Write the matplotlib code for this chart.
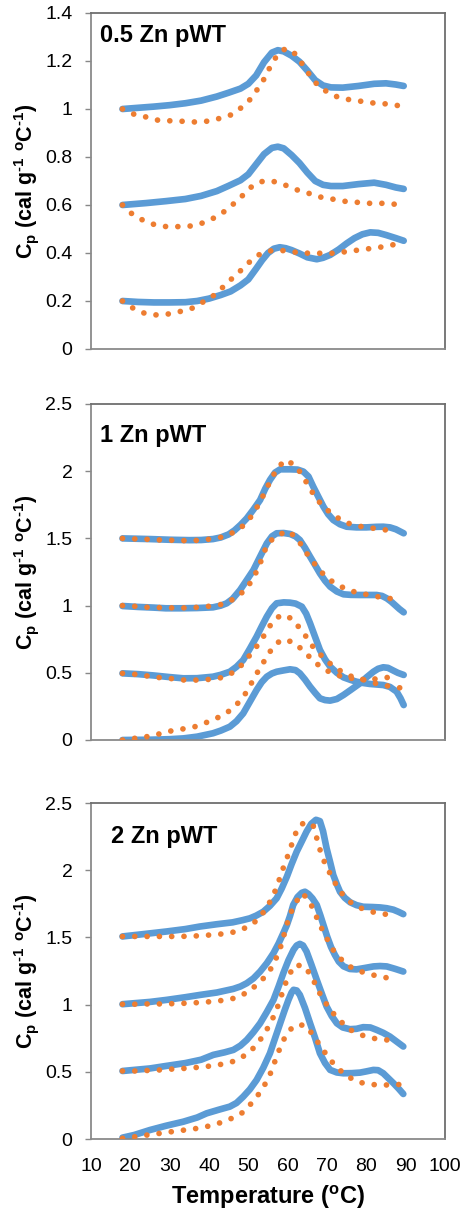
import matplotlib
matplotlib.use("Agg")
import matplotlib.pyplot as plt
from matplotlib.ticker import FormatStrFormatter, MultipleLocator

plt.rcParams["font.family"] = ["Liberation Sans", "DejaVu Sans"]
plt.rcParams["mathtext.default"] = "regular"

BLUE = "#5B9BD5"
ORANGE = "#ED7D31"

# ---- 0.5 Zn pWT ----
t05_blue_a = [18, 22, 26, 30, 34, 38, 42, 45, 48, 50, 52, 54, 56, 57.5, 59, 61, 63, 65, 67, 69, 71, 74, 78, 82, 85, 87.5, 89.5]
cp05_blue_a = [1.000, 1.005, 1.010, 1.016, 1.024, 1.035, 1.052, 1.068, 1.085, 1.105, 1.140, 1.195, 1.235, 1.245, 1.240, 1.222,
               1.197, 1.160, 1.120, 1.098, 1.090, 1.089, 1.096, 1.105, 1.107, 1.102, 1.096]
t05_orange_a = [18, 20.8, 23.7, 26.7, 29.8, 33, 36.3, 39.4, 42.5, 45.5, 48, 50.3, 52.3, 54, 55.5, 57.2, 59.5, 62, 63.7, 65.7,
                67.6, 70.3, 73.1, 76, 79.2, 82.2, 85.3, 88.6]
cp05_orange_a = [1.0, 0.979, 0.968, 0.954, 0.951, 0.949, 0.946, 0.949, 0.96, 0.975, 1.003, 1.037, 1.082, 1.125, 1.174, 1.221,
                 1.253, 1.229, 1.188, 1.139, 1.1, 1.068, 1.047, 1.038, 1.031, 1.024, 1.021, 1.013]
t05_blue_b = [18, 24, 29, 34, 38, 42, 45, 48, 50, 52, 54, 56, 57.5, 59, 61, 63, 65, 67, 69, 71, 74, 78, 82, 85, 87.5, 89.5]
cp05_blue_b = [0.600, 0.608, 0.616, 0.625, 0.638, 0.658, 0.680, 0.703, 0.728, 0.770, 0.812, 0.838, 0.843, 0.836, 0.808, 0.775,
               0.735, 0.700, 0.684, 0.679, 0.679, 0.687, 0.693, 0.684, 0.673, 0.667]
t05_orange_b = [18, 20.3, 23.1, 26, 29.1, 32.3, 35.4, 38.6, 41.4, 44.1, 46.4, 48.7, 51, 53.8, 56.9, 59.7, 62.7, 65.7, 68.6,
                71.6, 74.7, 77.8, 80.9, 84.2, 87.5]
cp05_orange_b = [0.6, 0.565, 0.5375, 0.519, 0.51, 0.51, 0.5125, 0.526, 0.547, 0.575, 0.607, 0.642, 0.679, 0.7, 0.697, 0.681,
                 0.661, 0.647, 0.632, 0.624, 0.615, 0.611, 0.607, 0.607, 0.603]
t05_blue_c = [18, 22, 26, 30, 34, 37, 40, 43, 45.5, 48, 50, 52, 53.5, 55, 56.5, 58, 59.5, 61, 63, 65, 67.4, 69, 70.8, 73, 75,
              77, 79, 81, 83, 85, 87.5, 89.5]
cp05_blue_c = [0.200, 0.196, 0.194, 0.194, 0.195, 0.200, 0.210, 0.225, 0.240, 0.265, 0.290, 0.335, 0.370, 0.400, 0.418, 0.424,
               0.420, 0.412, 0.398, 0.382, 0.374, 0.380, 0.392, 0.415, 0.440, 0.462, 0.478, 0.486, 0.484, 0.475, 0.462, 0.451]
t05_orange_c = [18, 20.8, 23.6, 26.4, 29.7, 32.6, 35.6, 38.3, 41.1, 43.5, 45.8, 48, 50.4, 53, 55.9, 59.1, 62.1, 65.3, 68.6,
                72, 75, 78.1, 81.2, 84.3, 87.3, 89.5]
cp05_orange_c = [0.2, 0.169, 0.149, 0.142, 0.146, 0.156, 0.169, 0.194, 0.222, 0.257, 0.293, 0.326, 0.364, 0.396, 0.41, 0.41,
                 0.403, 0.399, 0.399, 0.399, 0.406, 0.4125, 0.419, 0.426, 0.436, 0.443]

# ---- 1 Zn pWT ----
t1_blue_a = [18, 25, 30, 35, 38, 41, 43, 45, 46.5, 48, 49.6, 51.3, 53, 54.3, 55.5, 56.8, 58.1, 60.6, 62.5, 64, 65.3, 66.5,
             67.8, 69.1, 70.3, 71.6, 73.3, 75, 77.5, 80, 82.5, 84.3, 86, 87.5, 89.5]
cp1_blue_a = [1.5, 1.495, 1.490, 1.487, 1.488, 1.495, 1.507, 1.530, 1.560, 1.600, 1.649, 1.715, 1.786, 1.870, 1.935, 1.990,
              2.014, 2.014, 2.012, 1.997, 1.960, 1.885, 1.810, 1.736, 1.680, 1.637, 1.605, 1.587, 1.582, 1.582, 1.586, 1.587,
              1.582, 1.568, 1.538]
t1_orange_a = [18, 21.2, 24.4, 27.7, 30.9, 34.2, 37.5, 40.7, 43.8, 46.6, 49.2, 51, 52.7, 54.2, 55.7, 57.2, 59.3, 61.9, 63.7,
               65.4, 67.1, 69.1, 71.4, 74.2, 77.2, 80.1, 83.2, 86.3]
cp1_orange_a = [1.5, 1.496, 1.493, 1.488, 1.486, 1.483, 1.486, 1.496, 1.513, 1.55, 1.605, 1.674, 1.756, 1.843, 1.935, 2.014,
                2.083, 2.046, 1.97, 1.885, 1.803, 1.736, 1.679, 1.625, 1.595, 1.582, 1.57, 1.5575]
t1_blue_b = [18, 22, 26, 29, 33, 37, 41, 43, 44.5, 46, 47.9, 49.6, 51.3, 53, 54.7, 56, 57.2, 59, 60.6, 62, 63.1, 64.4, 65.7,
             67, 68.2, 69.5, 70.8, 72.5, 74.2, 76, 78.4, 80.5, 82.6, 84, 85.2, 86.3, 87.3, 88.4, 89.5]
cp1_blue_b = [0.997, 0.99, 0.985, 0.980, 0.980, 0.982, 0.987, 1.000, 1.017, 1.050, 1.116, 1.190, 1.265, 1.365, 1.463, 1.515,
              1.538, 1.540, 1.533, 1.515, 1.488, 1.430, 1.364, 1.300, 1.240, 1.185, 1.141, 1.105, 1.084, 1.080, 1.079, 1.079,
              1.079, 1.072, 1.054, 1.030, 1.004, 0.975, 0.950]
t1_orange_b = [18, 21, 24, 27.5, 31, 34, 37, 40.7, 43.8, 46.6, 49.2, 51, 52.7, 54.7, 56.3, 57.9, 60.2, 62.6, 64.2, 66.1, 68.2,
               70.5, 73.1, 75.8, 79, 82, 85.2, 88.3]
cp1_orange_b = [1.0, 0.995, 0.988, 0.985, 0.983, 0.983, 0.987, 0.997, 1.012, 1.054, 1.116, 1.19, 1.29, 1.45, 1.50, 1.53, 1.555,
                1.493, 1.414, 1.339, 1.26, 1.195, 1.148, 1.111, 1.089, 1.071, 1.054, 1.049]
t1_blue_c = [18, 22, 26, 30, 33.5, 37, 41, 43, 45.3, 47, 48.7, 50.4, 52.1, 53.4, 54.7, 56, 57.2, 59, 60.6, 62, 63.6, 64.7,
             65.7, 67, 68.2, 69.5, 70.8, 72.5, 74.2, 76, 77.5, 79, 80.9, 82.6, 84.3, 86, 87.7, 88.7, 89.5]
cp1_blue_c = [0.496, 0.490, 0.480, 0.468, 0.459, 0.460, 0.471, 0.485, 0.508, 0.545, 0.595, 0.680, 0.769, 0.845, 0.918, 0.980,
              1.017, 1.024, 1.022, 1.015, 0.992, 0.940, 0.868, 0.765, 0.670, 0.600, 0.546, 0.500, 0.466, 0.447, 0.434, 0.425,
              0.417, 0.413, 0.409, 0.395, 0.360, 0.310, 0.260]
t1_orange_c = [18, 21.2, 24.4, 27.5, 30.7, 33.7, 36.9, 40.1, 43.2, 46, 48.3, 50.4, 52.4, 54.2, 55.9, 58.2, 61, 63.1, 65, 66.7,
               69.1, 71.4, 74.2, 77.2, 80.1, 83.5, 86.8]
cp1_orange_c = [0.496, 0.489, 0.476, 0.464, 0.456, 0.446, 0.446, 0.451, 0.464, 0.501, 0.558, 0.632, 0.707, 0.786, 0.868, 0.93,
                0.905, 0.831, 0.757, 0.682, 0.613, 0.553, 0.5, 0.46, 0.446, 0.459, 0.47]
t1_blue_d = [18, 25, 30, 33.5, 37, 41, 43, 45.3, 47, 48.7, 50.4, 52.1, 53.4, 54.7, 56, 57.2, 59, 60.6, 62, 63.1, 64.4, 65.7,
             67, 68.2, 69.5, 70.8, 72.5, 74.2, 76, 78.4, 80, 81.8, 83, 84.3, 85.5, 86.9, 88, 89.5]
cp1_blue_d = [0, 0.002, 0.006, 0.012, 0.025, 0.050, 0.070, 0.099, 0.140, 0.198, 0.285, 0.372, 0.430, 0.471, 0.495, 0.508,
              0.518, 0.526, 0.520, 0.496, 0.450, 0.397, 0.350, 0.310, 0.297, 0.293, 0.305, 0.335, 0.372, 0.422, 0.465, 0.508,
              0.530, 0.541, 0.537, 0.516, 0.500, 0.484]
t1_orange_d = [18, 21, 24.2, 27.3, 30.3, 33.3, 36.4, 39.4, 42.2, 44.9, 47.3, 49.3, 51, 52.5, 54.2, 55.9, 58.2, 61.2, 63.6,
               65.9, 68.3, 71, 74, 77, 79.8, 82.8, 85.8, 88.8]
cp1_orange_d = [0, 0.012, 0.025, 0.045, 0.067, 0.082, 0.099, 0.131, 0.166, 0.211, 0.273, 0.347, 0.434, 0.513, 0.595, 0.675,
                0.744, 0.732, 0.675, 0.608, 0.545, 0.5, 0.47, 0.455, 0.446, 0.417, 0.40, 0.387]

# ---- 2 Zn pWT ----
t2_blue_a = [18, 25, 29.2, 34, 37.7, 42, 46, 48.5, 50.4, 52, 53.8, 55.5, 57.2, 58.5, 59.8, 61, 62.3, 63.6, 64.8, 66, 67.2,
             68.2, 69, 69.9, 70.8, 71.6, 72.5, 73.3, 74.5, 75.9, 77.5, 79.2, 81.5, 83.5, 85.2, 86.9, 88.2, 89.4]
cp2_blue_a = [1.507, 1.530, 1.544, 1.562, 1.581, 1.598, 1.612, 1.628, 1.642, 1.662, 1.691, 1.735, 1.791, 1.865, 1.952, 2.045,
              2.138, 2.215, 2.287, 2.345, 2.375, 2.365, 2.290, 2.163, 2.060, 1.964, 1.895, 1.840, 1.795, 1.761, 1.740, 1.728,
              1.726, 1.723, 1.717, 1.706, 1.690, 1.673]
t2_orange_a = [18, 21.2, 24.4, 27.7, 30.9, 34.1, 37.5, 40.7, 43.8, 47.1, 50, 52.4, 54.5, 56, 57.3, 58.4, 59.5, 60.6, 61.6,
               62.7, 64, 65.3, 66.5, 67.2, 68, 69, 70.4, 71.9, 73.7, 75.9, 78.6, 81.8, 84.7, 87.7]
cp2_orange_a = [1.507, 1.507, 1.507, 1.507, 1.507, 1.508, 1.512, 1.519, 1.527, 1.544, 1.581, 1.631, 1.713, 1.792, 1.879, 1.979,
                2.066, 2.152, 2.244, 2.320, 2.350, 2.355, 2.330, 2.260, 2.172, 2.083, 1.996, 1.912, 1.83, 1.763, 1.718, 1.688,
                1.673, 1.663]
t2_blue_b = [18, 25, 29.2, 34, 37.7, 42, 46.2, 48, 49.6, 51.3, 53, 54.7, 56.4, 57.7, 58.9, 59.8, 60.6, 61.4, 62.5, 63.6, 64.4,
             65.3, 66.3, 67.4, 68.3, 69.1, 70, 71, 72, 73, 74.2, 75.8, 77.5, 79.5, 81.8, 83.5, 85.2, 87.3, 89.4]
cp2_blue_b = [1.003, 1.020, 1.035, 1.055, 1.072, 1.090, 1.117, 1.135, 1.159, 1.195, 1.246, 1.308, 1.383, 1.455, 1.532, 1.592,
              1.660, 1.741, 1.800, 1.832, 1.840, 1.822, 1.790, 1.741, 1.665, 1.592, 1.510, 1.430, 1.370, 1.320, 1.285, 1.265,
              1.262, 1.272, 1.284, 1.287, 1.284, 1.266, 1.246]
t2_orange_b = [18, 21.2, 24.4, 27.7, 30.9, 34.1, 37.3, 40.5, 43.7, 46.9, 50.1, 52.8, 55.1, 56.7, 58, 58.9, 59.8, 60.8, 62.3,
               63.8, 65.7, 67, 68.2, 69.7, 71.2, 73.1, 75.7, 78.6, 81.6, 84.6, 87.5]
cp2_orange_b = [1.003, 1.003, 1.005, 1.005, 1.007, 1.01, 1.015, 1.022, 1.032, 1.05, 1.097, 1.164, 1.234, 1.32, 1.408, 1.5,
                1.597, 1.684, 1.771, 1.828, 1.761, 1.674, 1.592, 1.507, 1.42, 1.35, 1.284, 1.246, 1.221, 1.202, 1.192]
t2_blue_c = [18, 25, 29.2, 34, 38, 41.1, 44, 46.2, 48, 49.6, 51.3, 53, 54.7, 56.4, 57.7, 58.9, 60.2, 61.5, 62.3, 63.1, 63.9,
             64.8, 66, 67.4, 68.7, 69.9, 71.2, 72.5, 74, 75.8, 77.5, 79.2, 81, 82.6, 84.3, 86, 87.7, 89.4]
cp2_blue_c = [0.506, 0.525, 0.544, 0.565, 0.590, 0.626, 0.645, 0.663, 0.695, 0.737, 0.795, 0.861, 0.945, 1.035, 1.135, 1.234,
              1.330, 1.408, 1.440, 1.452, 1.440, 1.395, 1.300, 1.184, 1.080, 0.986, 0.915, 0.861, 0.830, 0.817, 0.820, 0.832,
              0.830, 0.812, 0.790, 0.762, 0.725, 0.688]
t2_orange_c = [18, 21.2, 24.4, 27.7, 31, 34.3, 37.5, 40.7, 43.8, 46.9, 49.6, 51.9, 53.8, 55.5, 56.9, 58, 59, 60.2, 61.9, 64.4,
               66.3, 67.8, 69.5, 71.2, 73.3, 75.6, 78.6, 81.6, 84.7, 87.7]
cp2_orange_c = [0.506, 0.506, 0.51, 0.514, 0.521, 0.526, 0.534, 0.544, 0.559, 0.583, 0.631, 0.693, 0.77, 0.854, 0.941, 1.028,
                1.122, 1.214, 1.296, 1.284, 1.197, 1.102, 1.018, 0.948, 0.881, 0.817, 0.775, 0.75, 0.737, 0.737]
t2_blue_d = [18, 21, 25, 29, 33.5, 37, 39.4, 42.5, 45.3, 47, 48.7, 50.4, 52.1, 53.8, 55.5, 56.8, 58.1, 59.2, 60.2, 61, 61.5,
             62.3, 63.1, 64.4, 65.7, 67, 68.2, 69.5, 70.8, 72.5, 74.2, 76.3, 78.4, 80, 81.8, 83, 84.3, 85.6, 86.9, 88.2, 89.4]
cp2_blue_d = [0.010, 0.030, 0.067, 0.098, 0.129, 0.160, 0.191, 0.218, 0.241, 0.268, 0.315, 0.370, 0.439, 0.530, 0.638, 0.750,
              0.861, 0.955, 1.035, 1.090, 1.110, 1.105, 1.072, 0.975, 0.861, 0.750, 0.638, 0.565, 0.514, 0.495, 0.489, 0.490,
              0.494, 0.503, 0.514, 0.512, 0.489, 0.452, 0.415, 0.375, 0.335]
t2_orange_d = [18, 21.2, 24.4, 27.5, 30.7, 33.9, 37, 40.1, 43, 45.8, 48.5, 50.8, 52.8, 54.5, 55.9, 57, 58.2, 59.5, 61.5, 64.2,
               66.3, 68, 69.9, 71.9, 74, 77, 79.9, 83, 86.1, 89.4]
cp2_orange_d = [0.005, 0.017, 0.03, 0.042, 0.055, 0.067, 0.079, 0.097, 0.122, 0.154, 0.196, 0.266, 0.34, 0.42, 0.506, 0.598,
                0.688, 0.77, 0.842, 0.849, 0.782, 0.705, 0.626, 0.551, 0.494, 0.434, 0.41, 0.402, 0.402, 0.407]

panels = [
    ("0.5 Zn pWT", 1.4, 0.2, (0.025, 0.914),
     [(t05_blue_a, cp05_blue_a), (t05_blue_b, cp05_blue_b), (t05_blue_c, cp05_blue_c)],
     [(t05_orange_a, cp05_orange_a), (t05_orange_b, cp05_orange_b), (t05_orange_c, cp05_orange_c)]),
    ("1 Zn pWT", 2.5, 0.5, (0.025, 0.888),
     [(t1_blue_a, cp1_blue_a), (t1_blue_b, cp1_blue_b), (t1_blue_c, cp1_blue_c), (t1_blue_d, cp1_blue_d)],
     [(t1_orange_a, cp1_orange_a), (t1_orange_b, cp1_orange_b), (t1_orange_c, cp1_orange_c), (t1_orange_d, cp1_orange_d)]),
    ("2 Zn pWT", 2.5, 0.5, (0.056, 0.882),
     [(t2_blue_a, cp2_blue_a), (t2_blue_b, cp2_blue_b), (t2_blue_c, cp2_blue_c), (t2_blue_d, cp2_blue_d)],
     [(t2_orange_a, cp2_orange_a), (t2_orange_b, cp2_orange_b), (t2_orange_c, cp2_orange_c), (t2_orange_d, cp2_orange_d)]),
]

W, H = 466, 1216
fig = plt.figure(figsize=(W / 100, H / 100), dpi=100)
tops = [13, 404, 803]
ax_h = 336
left, width = 91, 354

HY = "\u2010"
ylabel = (r"C$_\mathregular{p}$ (cal g$^\mathregular{" + HY + r"1}$ $^\mathregular{o}$C$^\mathregular{" + HY + r"1}$)")

for i, (title, ymax, ystep, tpos, blues, oranges) in enumerate(panels):
    top = tops[i]
    ax = fig.add_axes([left / W, 1 - (top + ax_h) / H, width / W, ax_h / H])
    for t, cp in blues:
        ax.plot(t, cp, color=BLUE, lw=4.8, solid_capstyle="round", solid_joinstyle="round", zorder=2)
    for t, cp in oranges:
        ax.plot(t, cp, color=ORANGE, lw=4.1, linestyle=(0, (0.01, 2.15)), dash_capstyle="round", zorder=3)
    ax.set_xlim(10, 100)
    ax.set_ylim(0, ymax)
    ax.yaxis.set_major_locator(MultipleLocator(ystep))
    ax.yaxis.set_major_formatter(FormatStrFormatter("%g"))
    ax.xaxis.set_major_locator(MultipleLocator(10))
    ax.tick_params(axis="y", direction="out", length=4.3, width=1, color="#888888", pad=9, labelsize=14)
    ax.tick_params(axis="x", length=0, pad=14, labelsize=14)
    if i < 2:
        ax.tick_params(axis="x", labelbottom=False)
    for side in ["left", "bottom"]:
        ax.spines[side].set_color("#8a8a8a")
        ax.spines[side].set_linewidth(1.3)
    for side in ["top", "right"]:
        ax.spines[side].set_color("#6e6e6e")
        ax.spines[side].set_linewidth(1.3)
    ax.text(tpos[0], tpos[1], title, transform=ax.transAxes, fontsize=17, fontweight="bold", va="baseline")
    ax.set_ylabel(ylabel, fontsize=15.5, fontweight="bold")
    ax.yaxis.set_label_coords(-0.14, 0.5)
    if i == 2:
        ax.set_xlabel("Temperature (" + r"$^\mathregular{o}$" + "C)", fontsize=17, fontweight="bold", labelpad=6)

fig.savefig("out.png", dpi=100)
